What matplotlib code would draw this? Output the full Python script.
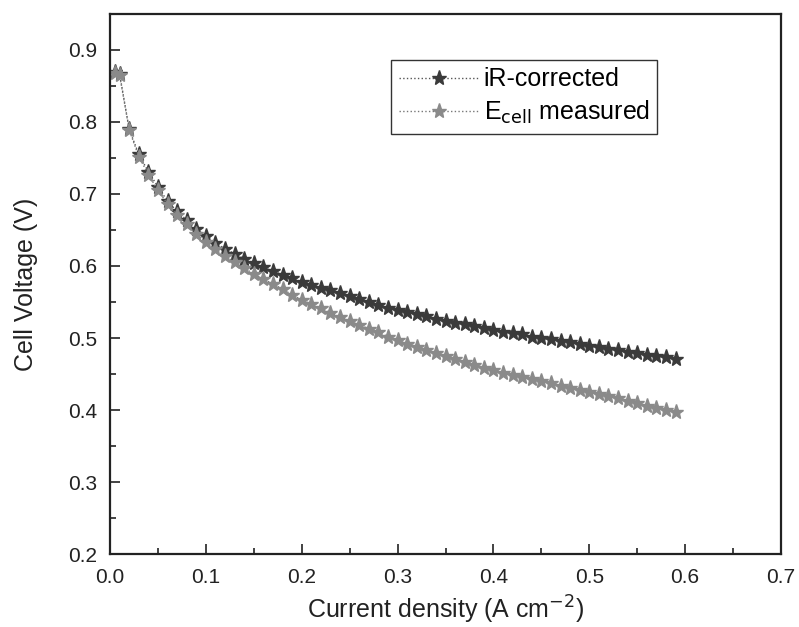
import numpy as np
import matplotlib
matplotlib.use("Agg")
from matplotlib import pyplot as plt
from matplotlib.ticker import MultipleLocator

plt.rcParams['font.family'] = ['Liberation Sans', 'DejaVu Sans']

# current density, A cm^-2
current = [0.005, 0.01, 0.02, 0.03, 0.04, 0.05, 0.06, 0.07, 0.08, 0.09,
           0.10, 0.11, 0.12, 0.13, 0.14, 0.15, 0.16, 0.17, 0.18, 0.19,
           0.20, 0.21, 0.22, 0.23, 0.24, 0.25, 0.26, 0.27, 0.28, 0.29,
           0.30, 0.31, 0.32, 0.33, 0.34, 0.35, 0.36, 0.37, 0.38, 0.39,
           0.40, 0.41, 0.42, 0.43, 0.44, 0.45, 0.46, 0.47, 0.48, 0.49,
           0.50, 0.51, 0.52, 0.53, 0.54, 0.55, 0.56, 0.57, 0.58, 0.59]

v_ir = [0.869, 0.867, 0.790, 0.755, 0.731, 0.710, 0.690, 0.676, 0.664, 0.652,
        0.641, 0.632, 0.624, 0.617, 0.610, 0.604, 0.598, 0.593, 0.588, 0.583,
        0.578, 0.574, 0.570, 0.566, 0.562, 0.558, 0.554, 0.550, 0.546, 0.542,
        0.539, 0.536, 0.533, 0.530, 0.527, 0.524, 0.521, 0.519, 0.516, 0.514,
        0.511, 0.509, 0.507, 0.505, 0.502, 0.500, 0.498, 0.496, 0.494, 0.491,
        0.489, 0.487, 0.485, 0.483, 0.481, 0.479, 0.477, 0.475, 0.473, 0.471]

v_meas = [0.868, 0.865, 0.789, 0.752, 0.727, 0.705, 0.686, 0.671, 0.658, 0.645,
          0.633, 0.623, 0.614, 0.605, 0.597, 0.589, 0.582, 0.575, 0.568, 0.560,
          0.553, 0.547, 0.541, 0.535, 0.529, 0.524, 0.518, 0.513, 0.508, 0.502,
          0.497, 0.492, 0.488, 0.483, 0.479, 0.475, 0.471, 0.467, 0.463, 0.459,
          0.456, 0.452, 0.449, 0.446, 0.443, 0.440, 0.437, 0.434, 0.431, 0.428,
          0.425, 0.422, 0.419, 0.416, 0.413, 0.410, 0.406, 0.403, 0.400, 0.397]

fig = plt.figure(figsize=(7.99, 6.27), dpi=100)
ax = fig.add_axes([0.1377, 0.1164, 0.8398, 0.8613])

ax.plot(current, v_ir, ls=':', lw=1.0, color='#555555', marker='*', ms=11,
        mfc='#3a3a3a', mec='#3a3a3a', label='iR-corrected')
ax.plot(current, v_meas, ls=':', lw=1.0, color='#777777', marker='*', ms=11,
        mfc='#8a8a8a', mec='#8a8a8a', label=r'E$_{\rm cell}$ measured')

ax.set_xlim(0, 0.7)
ax.set_ylim(0.2, 0.95)
ax.xaxis.set_major_locator(MultipleLocator(0.1))
ax.xaxis.set_minor_locator(MultipleLocator(0.05))
ax.yaxis.set_major_locator(MultipleLocator(0.1))
ax.yaxis.set_minor_locator(MultipleLocator(0.05))
ax.set_yticks([0.2, 0.3, 0.4, 0.5, 0.6, 0.7, 0.8, 0.9])
ax.tick_params(which='both', direction='in', top=False, right=False,
               labelsize=15, colors='#222222', width=1.2)
ax.tick_params(which='major', length=7)
ax.tick_params(axis='x', which='major', pad=10)
ax.tick_params(axis='y', which='major', pad=9)
ax.tick_params(which='minor', length=4)
for s in ax.spines.values():
    s.set_linewidth(1.6)
    s.set_color('#222222')

ax.set_xlabel(r'Current density (A cm$^{-2}$)', fontsize=18, color='#222222')
ax.set_ylabel('Cell Voltage (V)', fontsize=18, color='#222222')
ax.xaxis.set_label_coords(0.5, -0.104)
ax.yaxis.set_label_coords(-0.125, 0.5)
ax.xaxis.label.set_va('center')
ax.yaxis.label.set_va('center')

leg = ax.legend(loc='upper left', bbox_to_anchor=(0.419, 0.915), fontsize=18,
                fancybox=False, framealpha=1, edgecolor='#333333',
                handlelength=3.2, borderpad=0.3, labelspacing=0.3, handletextpad=0.2,
                borderaxespad=0)
leg.get_frame().set_linewidth(1.0)

fig.savefig("out.png", dpi=100)
